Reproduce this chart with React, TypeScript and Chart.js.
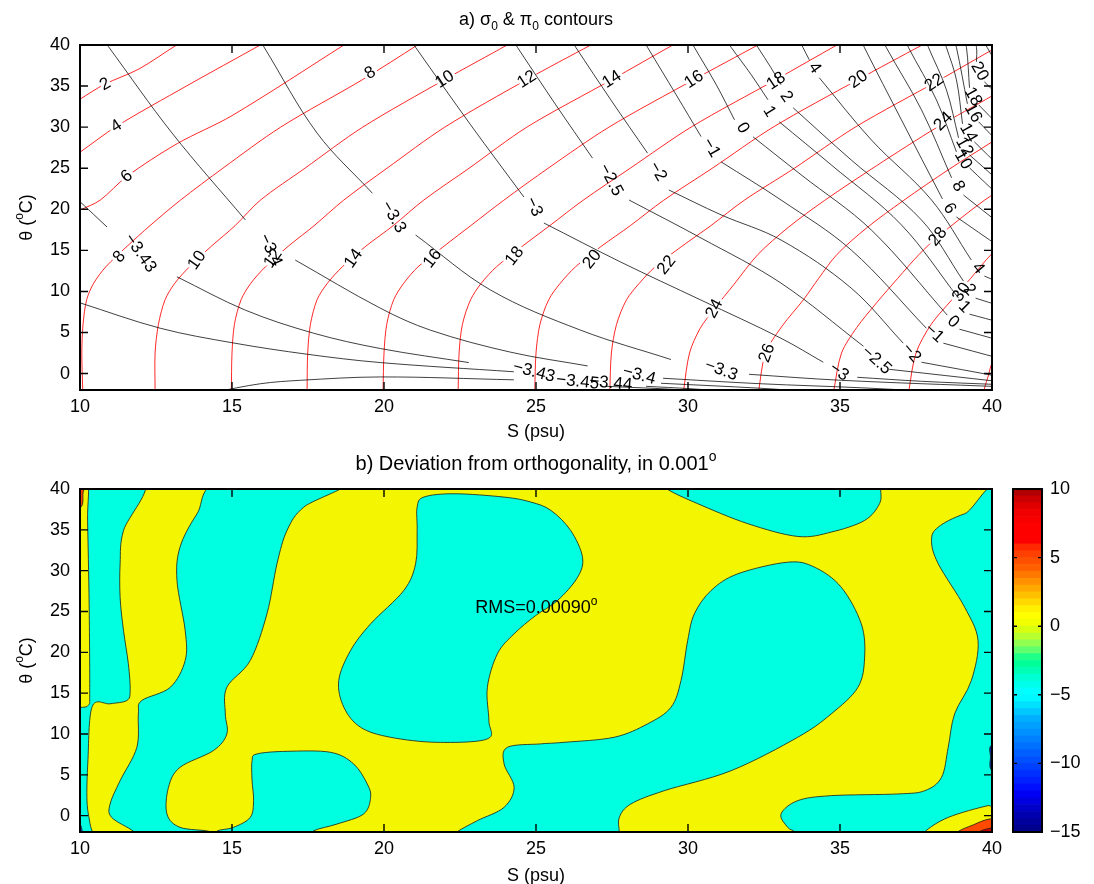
import React, { useEffect, useRef } from "react";
import { Chart, registerables } from "chart.js";

Chart.register(...registerables);

const FONT = "'Liberation Sans', Arial, Helvetica, sans-serif";
const MINUS = "\u2212";

// ---------------- axis ticks ----------------
const salinityTicks = [10, 15, 20, 25, 30, 35, 40];
const thetaTicks = [0, 5, 10, 15, 20, 25, 30, 35, 40];
const colorbarTicks = [-15, -10, -5, 0, 5, 10];

// ---------------- panel a: sigma0 contours, [S, theta] ----------------
const sigma2 = [[9.5, 32.2], [10, 33.4], [10.8, 35.2], [11.95, 37.1], [13.18, 40], [13.6, 40.8]];
const sigma4 = [[9.6, 26.0], [10, 26.95], [11.2, 30.1], [13.5, 35.0], [15.93, 40], [16.3, 40.8]];
const sigma6 = [[9.7, 19.3], [10, 19.9], [10.66, 21.1], [11.54, 24], [13.2, 28.0], [15.0, 31.4], [18.68, 40], [19.0, 40.8]];
const sigma8 = [[10.09, -2.5], [10.09, -2], [10.06, 2.5], [10.1, 6], [10.22, 9], [10.45, 11], [10.85, 13], [11.55, 15.5], [12.3, 18], [13.3, 21.1], [14.7, 25], [16.6, 30], [19.3, 35.8], [21.1, 40], [21.4, 40.8]];
const sigma10 = [[12.47, -2.5], [12.47, -2], [12.47, 2.5], [12.58, 6], [12.8, 9], [13.12, 11], [13.6, 13], [14.32, 15.5], [15.1, 18], [15.93, 21.1], [17.4, 25], [19.3, 30], [22.0, 35.8], [24.05, 40], [24.4, 40.8]];
const sigma12 = [[14.98, -2.5], [14.98, -2], [15.0, 2.5], [15.08, 6], [15.3, 9], [15.62, 11], [16.1, 13], [16.85, 15.5], [17.7, 18], [18.67, 21.1], [20.1, 25], [22.0, 30], [24.7, 35.8], [26.8, 40], [27.2, 40.8]];
const sigma14 = [[17.47, -2.5], [17.47, -2], [17.49, 2.5], [17.58, 6], [17.8, 9], [18.14, 11], [18.63, 13], [19.4, 15.5], [20.3, 18], [21.3, 21.1], [22.8, 25], [24.7, 30], [27.5, 35.8], [29.5, 40], [29.9, 40.8]];
const sigma16 = [[19.97, -2.5], [19.97, -2], [20.0, 2.5], [20.09, 6], [20.32, 9], [20.65, 11], [21.12, 13], [21.97, 15.5], [22.85, 18], [23.94, 21.1], [25.4, 25], [27.4, 30], [30.2, 35.8], [32.3, 40], [32.7, 40.8]];
const sigma18 = [[22.44, -2.5], [22.44, -2], [22.47, 2.5], [22.58, 6], [22.85, 9], [23.2, 11], [23.7, 13], [24.55, 15.5], [25.45, 18], [26.55, 21.1], [28.1, 25], [30.1, 30], [32.9, 35.8], [34.9, 40], [35.3, 40.8]];
const sigma20 = [[24.96, -2.5], [24.96, -2], [25.0, 2.5], [25.13, 6], [25.42, 9], [25.8, 11], [26.3, 13], [27.15, 15.5], [28.1, 18], [29.2, 21.1], [30.8, 25], [32.8, 30], [35.6, 35.8], [37.7, 40], [38.1, 40.8]];
const sigma22 = [[27.43, -2.5], [27.43, -2], [27.48, 2.5], [27.65, 6], [27.98, 9], [28.4, 11], [28.92, 13], [29.8, 15.5], [30.75, 18], [31.85, 21.1], [33.5, 25], [35.5, 30], [38.3, 35.8], [40, 39.4], [40.5, 40.4]];
const sigma24 = [[29.86, -2.5], [29.86, -2], [30.05, 2.5], [30.4, 5.5], [30.87, 7.9], [31.5, 10.8], [32.3, 14.5], [33.3, 17.8], [34.5, 21.1], [36.2, 25.3], [38.2, 30], [40, 33.8], [40.5, 34.9]];
const sigma26 = [[32.33, -2.5], [32.33, -2], [32.55, 2.5], [33.1, 5.8], [33.8, 9], [34.3, 11.6], [34.9, 14.5], [35.9, 17.8], [37.1, 21.1], [38.6, 24.9], [40, 28.2], [40.5, 29.4]];
const sigma28 = [[34.8, -2.5], [34.8, -2], [35.05, 2.5], [35.55, 5.6], [36.2, 8.6], [36.9, 11.6], [37.6, 14.5], [38.22, 16.66], [39.75, 21.1], [40.5, 22.8]];
const sigma30 = [[37.27, -2.5], [37.27, -2], [37.5, 2.5], [38.0, 6], [38.67, 8.94], [39.3, 11.6], [40, 14.6], [40.5, 16]];
const sigma32 = [[39.74, -2.5], [39.74, -2], [39.9, 0], [40, 1.2], [40.5, 3]];

const sigmaLines = [sigma2, sigma4, sigma6, sigma8, sigma10, sigma12, sigma14, sigma16, sigma18, sigma20, sigma22, sigma24, sigma26, sigma28, sigma30, sigma32];

// ---------------- panel a: pi0 contours, broken where labelled ----------------
const spiceM345 = [[[9.8, 8.84], [10, 8.61], [12.64, 5.52], [15.04, 3.73], [17.48, 2.35], [19.88, 1.34], [24.27, 0.22]], [[27.3, -1.55], [29.77, -1.98], [30.43, -2.3]]];
const spiceM344 = [[[14.38, -2.3], [15.93, -1.24], [17.25, -0.82], [19.88, -0.41], [24.27, -0.76]], [[28.62, -1.55], [30.1, -1.85], [31.75, -2.3]]];
const spiceM343 = [[[9.8, 21.6], [10, 20.93], [10.89, 17.84]], [[13.19, 11.78], [15.44, 7.72], [17.68, 4.92], [19.88, 3.05], [22.79, 1.34]], [[29.11, -1.18], [32.4, -1.79], [34.38, -2.3]]];
const spiceM34 = [[[10.77, 40.65], [10.93, 39.83], [13.03, 29.27], [15.44, 18.7]], [[17.08, 13.82], [19.88, 7.96], [21.53, 5.28], [24.17, 2.6], [26.7, 0.93]], [[29.18, -0.57], [32.4, -1.24], [35.7, -1.73], [38.6, -2.3]]];
const spiceM33 = [[[15.9, 40.65], [16.04, 39.83], [17.8, 29.27], [19.62, 21.95]], [[21.04, 16.87], [23.51, 10.16], [26.47, 5.28], [29.44, 1.71]], [[32.01, -0.09], [35.04, -0.82], [40.3, -1.6]]];
const spiceM3 = [[[20.87, 40.65], [21.04, 39.71], [22.85, 30.28], [24.6, 21.5]], [[25.26, 18.33], [27.79, 13.57], [30.43, 8.94], [33.06, 4.3], [34.45, 1.38]], [[35.57, -0.45], [37.68, -0.94], [40.3, -1.35]]];
const spiceM25 = [[[24.23, 40.65], [24.39, 39.71], [25.65, 32.72], [26.86, 26.22]], [[28.06, 21.13], [30.43, 16.5], [33.06, 11.01], [35.77, 3.33]], [[36.62, 0.52], [40.3, -1.0]]];
const spiceM2 = [[[26.15, 40.65], [26.31, 39.71], [27.46, 33.33], [28.67, 26.83]], [[29.37, 22.35], [31.09, 19.32], [33.06, 16.26], [35.37, 10.4], [37.08, 3.7]], [[37.68, 1.38], [40.3, -0.4]]];
const spiceM1 = [[[28.52, 40.65], [28.67, 39.71], [29.61, 33.94], [30.43, 28.85]], [[31.09, 25.77], [33.06, 21.13], [35.37, 15.04], [37.84, 5.52]], [[38.4, 3.7], [40.3, 1.8]]];
const spice0 = [[[30.07, 40.65], [30.21, 39.71], [30.93, 35.16], [31.53, 30.89]], [[32.14, 28.82], [33.72, 24.2], [36.03, 17.48], [38.53, 7.11]], [[38.93, 5.4], [40.3, 4.0]]];
const spice1 = [[[31.25, 40.65], [31.42, 39.71], [32.08, 36.38], [32.63, 33.33]], [[33.0, 30.65], [34.71, 25.41], [37.02, 18.1], [38.9, 9.18]], [[39.26, 7.23], [40.3, 6.2]]];
const spice2 = [[[32.14, 40.65], [32.3, 39.71], [32.73, 37.23], [33.06, 35.16]], [[33.46, 32.35], [35.37, 26.0], [37.68, 18.7], [39.06, 11.26]], [[39.46, 9.18], [40.3, 8.2]]];
const spice4 = [[[33.66, 40.65], [33.78, 39.71], [33.99, 38.2]], [[34.32, 36.01], [36.03, 28.45], [38.01, 21.13], [39.32, 13.82]], [[39.75, 11.87], [40.3, 11.0]]];
const spice6 = [[[35.7, 40.65], [35.8, 39.71], [37.02, 30.89], [38.37, 21.26]], [[38.83, 19.06], [40.3, 15.3]]];
const spice8 = [[[36.42, 40.65], [36.52, 39.71], [37.68, 32.11], [38.67, 23.83]], [[39.06, 21.74], [40.3, 18.1]]];
const spice10 = [[[37.15, 40.65], [37.25, 39.71], [38.17, 33.33], [38.83, 26.99]], [[39.26, 25.04], [40.3, 21.4]]];
const spice12 = [[[37.81, 40.65], [37.91, 39.71], [38.5, 34.55], [38.9, 28.7]], [[39.26, 26.62], [40.3, 23.2]]];
const spice14 = [[[38.4, 40.65], [38.5, 39.71], [38.83, 35.77], [39.03, 30.4]], [[39.42, 28.21], [40.3, 25.0]]];
const spice16 = [[[38.73, 40.65], [38.83, 39.71], [39.19, 32.84]], [[39.56, 30.65], [40.3, 27.8]]];
const spice18 = [[[39.06, 40.65], [39.16, 39.71], [39.26, 34.79]], [[39.56, 32.72], [40.3, 29.9]]];
const spice20 = [[[39.39, 40.65], [39.49, 39.71], [39.49, 37.96]], [[39.75, 35.52], [40.3, 33.5]]];
const spice22 = [[[39.69, 40.65], [40.3, 36.8]]];

const spiceLines = [spiceM345, spiceM344, spiceM343, spiceM34, spiceM33, spiceM3, spiceM25, spiceM2, spiceM1, spice0, spice1, spice2, spice4, spice6, spice8, spice10, spice12, spice14, spice16, spice18, spice20, spice22];

// contour labels: [text, S, theta]
const sigmaLabels = [
  ["2", 10.83, 35.2], ["4", 11.2, 30.1], ["6", 11.54, 24], ["8", 11.3, 14.2], ["10", 13.85, 13.8],
  ["12", 16.35, 14.0], ["14", 19.0, 14.0], ["16", 21.6, 14.0], ["18", 24.3, 14.3], ["20", 26.85, 13.9],
  ["22", 29.3, 13.2], ["24", 30.87, 7.9], ["26", 32.6, 2.5], ["28", 38.22, 16.66], ["30", 39.0, 9.9],
  ["8", 19.55, 36.6], ["10", 22.0, 35.8], ["12", 24.7, 35.8], ["14", 27.5, 35.8], ["16", 30.2, 35.8],
  ["18", 32.9, 35.6], ["20", 35.6, 35.8], ["22", 38.1, 35.4], ["24", 38.4, 30.7],
];
const sigmaLabelAngles = [-30, -33, -40, -50, -55, -55, -55, -52, -52, -52, -52, -62, -70, -50, -55, -32, -33, -33, -33, -34, -34, -35, -35, -45];

const spiceLabels = [
  [MINUS + "3.43", 11.98, 14.67], [MINUS + "3.4", 16.26, 15.04], [MINUS + "3.3", 20.31, 19.06], [MINUS + "3", 24.93, 20.3],
  [MINUS + "2.5", 27.46, 23.57], [MINUS + "2", 29.0, 24.6], [MINUS + "1", 30.76, 27.5], ["0", 31.8, 29.9],
  ["1", 32.67, 31.9], ["2", 33.23, 33.7], ["4", 34.16, 37.2],
  ["20", 39.59, 36.8], ["18", 39.38, 33.7], ["16", 39.38, 31.7], ["14", 39.22, 29.3], ["12", 39.09, 27.6],
  ["10", 39.05, 26.0], ["8", 38.89, 22.8], ["6", 38.6, 20.1], ["4", 39.54, 12.8], ["2", 39.26, 10.2],
  ["1", 39.09, 8.1], ["0", 38.72, 6.3], [MINUS + "1", 38.1, 4.9], [MINUS + "2", 37.35, 2.5], [MINUS + "2.5", 36.2, 1.6],
  [MINUS + "3", 34.97, 0.2], [MINUS + "3.3", 31.09, 0.4], [MINUS + "3.4", 28.39, -0.2], [MINUS + "3.44", 27.46, -1.18],
  [MINUS + "3.45", 26.37, -1.0], [MINUS + "3.43", 24.93, 0.2],
];
const spiceLabelAngles = [55, 65, 60, 65, 62, 60, 60, 60, 58, 55, 55, 60, 60, 60, 60, 60, 60, 60, 58, 50, 48, 45, 42, 42, 50, 42, 35, 20, 15, 5, 6, 15];

// ---------------- panel b: regions of the deviation field, [S, theta] ----------------
const cyanLeft = [[9.5, 41], [12.1, 41], [11.43, 34.9], [11.32, 30.9], [11.32, 26.7], [11.43, 22.7], [11.59, 18.6], [11.65, 15.3], [11.54, 14.1], [10.99, 13.7], [10.4, 13.35], [10.26, 6.7], [10.23, 1.8], [10.33, -1], [10.4, -3], [9.5, -3]];
const yellowStrip = [[9.5, 41], [10.22, 41], [10.25, 36], [10.3, 26], [10.32, 15.3], [10.28, 13.55], [10.0, 13.25], [9.5, 13.2]];
const warmTopLeft = [[9.5, 41], [10.13, 41], [10.1, 39.5], [10.03, 37.8], [9.5, 37.5]];
const coldCorner = [[9.5, -3], [10.06, -3], [10.05, -1.5], [9.9, -0.5], [9.5, -0.3]];
const cyanBand = [[14.69, 41], [13.85, 36.97], [13.29, 32.88], [13.19, 28.8], [13.46, 22.67], [13.46, 19.0], [12.97, 15.72], [12.03, 14.09], [11.92, 12.46], [11.87, 8.37], [11.32, 4.29], [10.99, 1.43], [11.04, -0.21], [11.76, -1.92], [11.9, -3], [14.4, -3], [14.28, -1.96], [13.29, -1.43], [12.86, 0.21], [12.91, 3.47], [13.29, 5.92], [14.39, 7.97], [14.83, 10.01], [14.78, 12.46], [14.83, 15.72], [15.6, 19.0], [16.15, 24.72], [16.48, 30.85], [16.81, 34.93], [17.36, 37.78], [18.73, 41]];
const cyanLowBlob = [[15.66, 6.74], [15.82, 7.56], [16.81, 7.88], [18.24, 7.76], [19.0, 6.34], [19.45, 3.88], [19.56, 2.24], [19.33, 0.21], [18.46, -1.02], [17.69, -1.84], [17.3, -3], [14.6, -3], [14.5, -1.92], [15.05, -1.43], [15.6, -0.21], [15.71, 1.84], [15.66, 4.29]];
const cyanMidBlob = [[21.09, 37.78], [21.31, 39.01], [22.3, 39.42], [23.95, 39.01], [24.83, 38.4], [25.49, 37.38], [26.14, 34.93], [26.53, 31.65], [26.37, 29.2], [25.71, 26.35], [24.99, 24.51], [24.28, 22.27], [23.73, 19.82], [23.4, 15.72], [23.45, 11.64], [23.4, 9.4], [21.75, 8.98], [20.21, 9.6], [19.23, 10.82], [18.68, 13.27], [18.51, 16.54], [18.9, 20.22], [19.56, 23.49], [20.65, 27.57], [21.04, 30.85], [21.09, 34.93]];
const cyanLowerBand = [[22.1, -3], [22.41, -1.96], [23.07, -0.61], [23.95, 1.02], [24.28, 3.47], [23.95, 6.34], [24.06, 8.37], [25.16, 8.79], [25.92, 8.98], [27.57, 9.6], [28.67, 11.24], [29.44, 13.27], [29.77, 16.54], [29.99, 21.45], [30.21, 24.72], [30.76, 27.57], [31.64, 29.62], [33.28, 31.04], [34.16, 30.43], [35.04, 27.98], [35.7, 23.49], [35.81, 19.4], [35.59, 15.72], [34.71, 12.46], [33.61, 9.6], [31.42, 5.51], [29.22, 3.06], [28.12, 1.43], [27.74, -0.21], [27.74, -1.96], [27.74, -3]];
const cyanTopBlob = [[29.11, 41], [29.33, 39.95], [30.32, 38.2], [31.97, 35.75], [33.61, 34.19], [34.71, 34.72], [35.81, 36.15], [36.3, 38.2], [36.34, 39.95], [36.34, 41]];
const cyanRightBand = [[40.5, 38.3], [39.1, 36.97], [38.23, 35.33], [38.01, 33.7], [38.23, 30.85], [39.1, 25.53], [39.54, 21.45], [39.32, 16.54], [38.77, 12.46], [38.56, 8.37], [38.34, 4.69], [37.79, 3.06], [36.91, 2.66], [34.71, 2.45], [33.61, 1.84], [33.06, 0.21], [33.28, -1.43], [33.5, -1.96], [33.6, -3], [37.7, -3], [37.79, -1.96], [38.56, -0.21], [39.87, 1.23], [40.5, 1.4]];
const coldEdge = [[40.5, 9.3], [39.97, 8.6], [39.95, 7.2], [39.98, 5.6], [40.5, 5.0]];
const warmCornerOuter = [[38.7, -3], [38.88, -1.96], [39.4, -1.1], [39.87, -0.45], [40.5, -0.3], [40.5, -3]];
const warmCornerInner = [[39.4, -3], [39.56, -2], [40.0, -1.5], [40.5, -1.4], [40.5, -3]];

const rmsText = "RMS=0.00090";
const rmsAnchor = [23.0, 24.8];

// ---------------- colour scale ----------------
const colorbarEdges = [-15, -14.5, -14, -13.5, -13, -12.5, -12, -11.5, -11, -10.5, -10, -9.5, -9, -8.5, -8, -7.5, -7, -6.5, -6, -5.5, -5, -4.5, -4, -3.5, -3, -2.5, -2, -1.5, -1, -0.5, 0, 0.5, 1, 1.5, 2, 2.5, 3, 3.5, 4, 4.5, 5, 5.5, 6, 6.5, 7, 7.5, 8, 8.5, 9, 9.5, 10];
const colorbarColors = [
  "#00008f", "#00009f", "#0000b0", "#0000c8", "#0000e0", "#0000f5", "#0010ff", "#0020ff", "#0030ff", "#0040ff",
  "#0050ff", "#0060ff", "#0070ff", "#0080ff", "#0090ff", "#00a0ff", "#00b0ff", "#00c8ff", "#00e0ff", "#00f8ff",
  "#00ffff", "#00ffea", "#00ffd5", "#00ffb5", "#00ff98", "#20ff88", "#60ff70", "#90ff50", "#b8ff30", "#d8ff10",
  "#f2ff00", "#ffff00", "#fff000", "#ffd800", "#ffc000", "#ffa800", "#ff9000", "#ff7800", "#ff6000", "#ff5000",
  "#ff4000", "#ff2800", "#ff0000", "#ff0000", "#ff0000", "#f80000", "#f00000", "#e00000", "#cc0000", "#b00000",
];

const YELLOW = "#f3f600";
const CYAN = "#00ffe1";

const regions = [
  { pts: cyanLeft, fill: CYAN },
  { pts: yellowStrip, fill: YELLOW },
  { pts: warmTopLeft, fill: "#ff4000" },
  { pts: coldCorner, fill: "#0050ff" },
  { pts: cyanBand, fill: CYAN },
  { pts: cyanLowBlob, fill: CYAN },
  { pts: cyanMidBlob, fill: CYAN },
  { pts: cyanLowerBand, fill: CYAN },
  { pts: cyanTopBlob, fill: CYAN },
  { pts: cyanRightBand, fill: CYAN },
  { pts: coldEdge, fill: "#0030c0" },
  { pts: warmCornerOuter, fill: "#ff4a00" },
  { pts: warmCornerInner, fill: "#c80000" },
];

// ---------------- drawing helpers ----------------
type Part = [string, "n" | "sub" | "sup"];

function drawRich(ctx: CanvasRenderingContext2D, parts: Part[], x: number, y: number, align: "center" | "left", size: number) {
  const norm = `${size}px ${FONT}`;
  const small = `${Math.round(size * 0.68)}px ${FONT}`;
  let w = 0;
  for (const [t, k] of parts) {
    ctx.font = k === "n" ? norm : small;
    w += ctx.measureText(t).width;
  }
  let cx = align === "center" ? x - w / 2 : x;
  ctx.textAlign = "left";
  ctx.textBaseline = "alphabetic";
  ctx.fillStyle = "#000";
  for (const [t, k] of parts) {
    ctx.font = k === "n" ? norm : small;
    const dy = k === "sub" ? size * 0.32 : k === "sup" ? -size * 0.45 : 0;
    ctx.fillText(t, cx, y + dy);
    cx += ctx.measureText(t).width;
  }
}

function drawThetaTitle(ctx: CanvasRenderingContext2D, cy: number) {
  ctx.save();
  ctx.translate(31.5, cy);
  ctx.rotate(-Math.PI / 2);
  drawRich(ctx, [["\u03b8 (", "n"], ["o", "sup"], ["C)", "n"]], 0, 0, "center", 18);
  ctx.restore();
}

function drawFrame(chart: any, xVals: number[], yVals: number[], len: number) {
  const { ctx, chartArea: a, scales } = chart;
  ctx.save();
  ctx.strokeStyle = "#000";
  ctx.lineWidth = 1.4;
  ctx.beginPath();
  for (const v of xVals) {
    const px = scales.x.getPixelForValue(v);
    ctx.moveTo(px, a.bottom);
    ctx.lineTo(px, a.bottom - len);
    ctx.moveTo(px, a.top);
    ctx.lineTo(px, a.top + len);
  }
  for (const v of yVals) {
    const py = scales.y.getPixelForValue(v);
    ctx.moveTo(a.left, py);
    ctx.lineTo(a.left + len, py);
    ctx.moveTo(a.right, py);
    ctx.lineTo(a.right - len, py);
  }
  ctx.stroke();
  ctx.lineWidth = 2;
  ctx.strokeRect(a.left, a.top, a.right - a.left, a.bottom - a.top);
  ctx.restore();
}

function drawContourLabel(ctx: CanvasRenderingContext2D, text: string, x: number, y: number, deg: number, halo: boolean) {
  ctx.save();
  ctx.translate(x, y);
  ctx.rotate((deg * Math.PI) / 180);
  ctx.font = `17px ${FONT}`;
  ctx.textAlign = "center";
  ctx.textBaseline = "middle";
  if (halo) {
    ctx.lineJoin = "round";
    ctx.lineWidth = 6;
    ctx.strokeStyle = "#fff";
    ctx.strokeText(text, 0, 0);
  }
  ctx.fillStyle = "#000";
  ctx.fillText(text, 0, 0);
  ctx.restore();
}

function closedSpline(ctx: CanvasRenderingContext2D, p: { x: number; y: number }[]) {
  const n = p.length;
  ctx.beginPath();
  ctx.moveTo(p[0].x, p[0].y);
  for (let i = 0; i < n; i++) {
    const p0 = p[(i - 1 + n) % n];
    const p1 = p[i];
    const p2 = p[(i + 1) % n];
    const p3 = p[(i + 2) % n];
    ctx.bezierCurveTo(
      p1.x + (p2.x - p0.x) / 6, p1.y + (p2.y - p0.y) / 6,
      p2.x - (p3.x - p1.x) / 6, p2.y - (p3.y - p1.y) / 6,
      p2.x, p2.y
    );
  }
  ctx.closePath();
}

const toXY = (pts: number[][]) => pts.map(([x, y]) => ({ x, y }));

function panelScales(xHeight: number) {
  const tickFont = { family: FONT, size: 18 };
  return {
    x: {
      type: "linear", min: 10, max: 40,
      grid: { display: false, drawTicks: false }, border: { display: false },
      ticks: { font: tickFont, color: "#000", padding: 6, autoSkip: false, maxRotation: 0, callback: (v: number) => String(v) },
      afterBuildTicks: (s: any) => { s.ticks = salinityTicks.map((v) => ({ value: v })); },
      afterFit: (s: any) => { s.height = xHeight; },
    },
    y: {
      type: "linear", min: -2, max: 40,
      grid: { display: false, drawTicks: false }, border: { display: false },
      ticks: { font: tickFont, color: "#000", padding: 10, autoSkip: false, callback: (v: number) => String(v) },
      afterBuildTicks: (s: any) => { s.ticks = thetaTicks.map((v) => ({ value: v })); },
      afterFit: (s: any) => { s.width = 80; },
    },
  };
}

const baseOptions = {
  responsive: false,
  maintainAspectRatio: false,
  animation: false as const,
  devicePixelRatio: 1,
  events: [] as any[],
};

// ---------------- panel a ----------------
function contourConfig(): any {
  const line = (pts: number[][], color: string, width: number, tension: number) => ({
    data: toXY(pts), showLine: true, borderColor: color, borderWidth: width,
    pointRadius: 0, pointHoverRadius: 0, tension, fill: false,
  });
  const blackSets = spiceLines.flatMap((segs) => segs.map((seg) => line(seg, "#000000", 0.75, 0.35)));
  const redSets = sigmaLines.map((pts) => line(pts, "#ff0000", 0.85, 0.3));
  const firstRed = blackSets.length;

  const plugin = {
    id: "contourDecor",
    afterDatasetDraw(chart: any, args: any) {
      if (args.index !== firstRed) return;
      const { ctx, scales } = chart;
      sigmaLabels.forEach(([t, s, th], i) => {
        drawContourLabel(ctx, t as string, scales.x.getPixelForValue(s), scales.y.getPixelForValue(th), sigmaLabelAngles[i], true);
      });
    },
    afterDatasetsDraw(chart: any) {
      const { ctx, scales } = chart;
      spiceLabels.forEach(([t, s, th], i) => {
        drawContourLabel(ctx, t as string, scales.x.getPixelForValue(s), scales.y.getPixelForValue(th), spiceLabelAngles[i], false);
      });
      drawFrame(chart, salinityTicks, thetaTicks, 8);
      const cx = (chart.chartArea.left + chart.chartArea.right) / 2;
      drawRich(ctx, [["a) \u03c3", "n"], ["0", "sub"], [" & \u03c0", "n"], ["0", "sub"], [" contours", "n"]], cx, 24.5, "center", 18);
      drawRich(ctx, [["S (psu)", "n"]], cx, 437, "center", 18);
      drawThetaTitle(ctx, (chart.chartArea.top + chart.chartArea.bottom) / 2);
    },
  };

  return {
    type: "scatter",
    data: { datasets: [...blackSets, ...redSets] },
    options: {
      ...baseOptions,
      layout: { padding: { left: 0, top: 45, right: 102, bottom: 0 } },
      plugins: { legend: { display: false }, tooltip: { enabled: false }, title: { display: false } },
      scales: panelScales(52),
    },
    plugins: [plugin],
  };
}

// ---------------- panel b ----------------
function deviationConfig(): any {
  const datasets = regions.map((r) => ({
    data: toXY(r.pts), showLine: false, pointRadius: 0, pointHoverRadius: 0, backgroundColor: r.fill,
  }));
  const plugin = {
    id: "deviationDecor",
    beforeDatasetsDraw(chart: any) {
      const { ctx, chartArea: a } = chart;
      ctx.save();
      ctx.beginPath();
      ctx.rect(a.left, a.top, a.right - a.left, a.bottom - a.top);
      ctx.clip();
      ctx.fillStyle = YELLOW;
      ctx.fillRect(a.left, a.top, a.right - a.left, a.bottom - a.top);
      chart.data.datasets.forEach((ds: any, i: number) => {
        const meta = chart.getDatasetMeta(i);
        const pts = meta.data.map((p: any) => ({ x: p.x, y: p.y }));
        closedSpline(ctx, pts);
        ctx.fillStyle = ds.backgroundColor;
        ctx.fill();
        ctx.lineWidth = 0.8;
        ctx.strokeStyle = "#1c1c1c";
        ctx.stroke();
      });
      ctx.restore();
    },
    afterDatasetsDraw(chart: any) {
      const { ctx, scales } = chart;
      drawRich(ctx, [[rmsText, "n"], ["o", "sup"]], scales.x.getPixelForValue(rmsAnchor[0]), scales.y.getPixelForValue(rmsAnchor[1]), "left", 18);
      drawFrame(chart, salinityTicks, thetaTicks, 8);
      const cx = (chart.chartArea.left + chart.chartArea.right) / 2;
      drawRich(ctx, [["b) Deviation from orthogonality, in 0.001", "n"], ["o", "sup"]], cx, 26, "center", 20);
      drawRich(ctx, [["S (psu)", "n"]], cx, 437, "center", 18);
      drawThetaTitle(ctx, (chart.chartArea.top + chart.chartArea.bottom) / 2);
    },
  };
  return {
    type: "scatter",
    data: { datasets },
    options: {
      ...baseOptions,
      layout: { padding: { left: 0, top: 45, right: 102, bottom: 0 } },
      plugins: { legend: { display: false }, tooltip: { enabled: false }, title: { display: false } },
      scales: panelScales(54),
    },
    plugins: [plugin],
  };
}

// ---------------- colour bar ----------------
function colorbarConfig(): any {
  const datasets = colorbarColors.map((c, i) => ({
    data: [[colorbarEdges[i], colorbarEdges[i + 1]]],
    backgroundColor: c, borderWidth: 0, barPercentage: 1, categoryPercentage: 1, grouped: false,
  }));
  const plugin = {
    id: "colorbarFrame",
    afterDatasetsDraw(chart: any) {
      const { ctx, chartArea: a, scales } = chart;
      ctx.save();
      ctx.strokeStyle = "#000";
      ctx.lineWidth = 1.4;
      ctx.beginPath();
      for (const v of colorbarTicks) {
        const py = scales.y.getPixelForValue(v);
        ctx.moveTo(a.left, py);
        ctx.lineTo(a.left + 4, py);
        ctx.moveTo(a.right, py);
        ctx.lineTo(a.right - 4, py);
      }
      ctx.stroke();
      ctx.lineWidth = 2;
      ctx.strokeRect(a.left, a.top, a.right - a.left, a.bottom - a.top);
      ctx.restore();
    },
  };
  return {
    type: "bar",
    data: { labels: ["level"], datasets },
    options: {
      ...baseOptions,
      layout: { padding: { left: 23, top: 45, right: 0, bottom: 54 } },
      plugins: { legend: { display: false }, tooltip: { enabled: false }, title: { display: false } },
      scales: {
        x: { display: false },
        y: {
          position: "right", min: -15, max: 10,
          grid: { display: false, drawTicks: false }, border: { display: false },
          ticks: { font: { family: FONT, size: 18 }, color: "#000", padding: 8, autoSkip: false, callback: (v: number) => String(v).replace("-", MINUS) },
          afterBuildTicks: (s: any) => { s.ticks = colorbarTicks.map((v) => ({ value: v })); },
          afterFit: (s: any) => { s.width = 52; },
        },
      },
    },
    plugins: [plugin],
  };
}

export default function App() {
  const topRef = useRef<HTMLCanvasElement>(null);
  const bottomRef = useRef<HTMLCanvasElement>(null);
  const barRef = useRef<HTMLCanvasElement>(null);

  useEffect(() => {
    const charts = [
      new Chart(topRef.current as HTMLCanvasElement, contourConfig()),
      new Chart(bottomRef.current as HTMLCanvasElement, deviationConfig()),
      new Chart(barRef.current as HTMLCanvasElement, colorbarConfig()),
    ];
    return () => charts.forEach((c) => c.destroy());
  }, []);

  return (
    <div style={{ position: "absolute", left: 0, top: 0, width: 1094, height: 884, background: "#fff" }}>
      <canvas ref={topRef} width={1094} height={442} style={{ position: "absolute", left: 0, top: 0 }} />
      <canvas ref={bottomRef} width={1094} height={442} style={{ position: "absolute", left: 0, top: 444 }} />
      <canvas ref={barRef} width={104} height={442} style={{ position: "absolute", left: 990, top: 444 }} />
    </div>
  );
}
